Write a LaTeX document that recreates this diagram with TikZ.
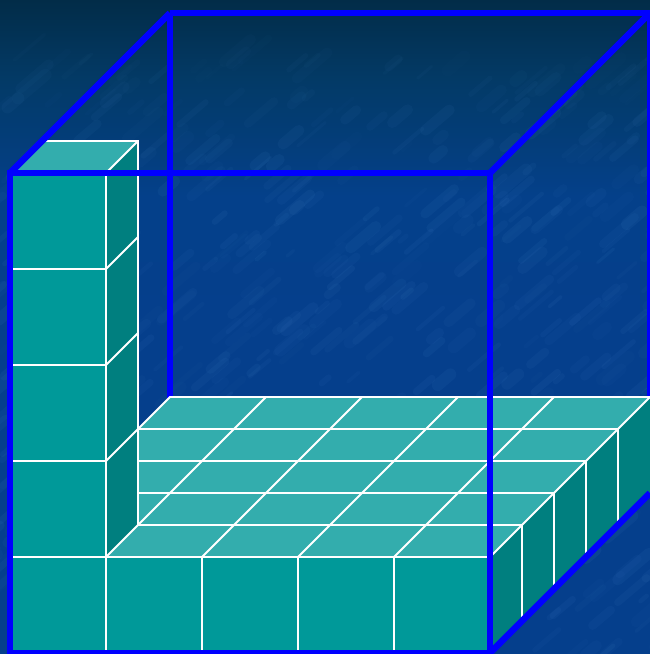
\documentclass[tikz,border=0pt]{standalone}
\definecolor{frontteal}{HTML}{009999}
\definecolor{topteal}{HTML}{33ADAD}
\definecolor{sideteal}{HTML}{007F7F}
\definecolor{cubeblue}{HTML}{0000FF}
\definecolor{bgtop}{HTML}{022C48}
\definecolor{bgupper}{HTML}{033A66}
\definecolor{bgmid}{HTML}{04408A}
\definecolor{bglow}{HTML}{053F8C}
\definecolor{streak}{HTML}{5A9ADC}
\pgfdeclareverticalshading{bgshade}{100bp}{
  color(0bp)=(bglow); color(25bp)=(bglow); color(50bp)=(bglow); color(60bp)=(bgmid); color(69bp)=(bgupper); color(75bp)=(bgtop); color(100bp)=(bgtop)}
\tikzset{
  frontface/.style={fill=frontteal},
  topface/.style={fill=topteal},
  sideface/.style={fill=sideteal},
  gridline/.style={draw=white,line width=1.9pt,line cap=butt},
  edgeline/.style={draw=cubeblue,line width=6.6pt,line join=miter},
  texture/.style={draw=streak,line cap=round},
}
\begin{document}
\begin{tikzpicture}[x=1pt,y=-1pt]
\useasboundingbox (0,0) rectangle (650,654);
\clip (0,0) rectangle (650,654);
% background
\shade[shading=bgshade] (0,0) rectangle (650,654);
\pgfmathsetseed{4711}
\foreach \i in {1,...,700}{
  \pgfmathsetmacro{\px}{rnd*700-25}
  \pgfmathsetmacro{\py}{60+rnd*600}
  \pgfmathsetmacro{\len}{6+rnd*26}
  \pgfmathsetmacro{\wid}{3+rnd*9}
  \pgfmathsetmacro{\op}{(0.02+rnd*0.05)*min(1,\py/220+0.25)}
  \draw[texture,line width=\wid pt,opacity=\op] (\px,\py) -- ++(\len,-\len*0.85);
}
% back edges of the box
\draw[edgeline] (170,400) -- (170,13);
\draw[edgeline] (650,400) -- (650,13);
% column side and top
\path[sideface] (106,173) -- (138,141) -- (138,525) -- (106,557) -- cycle;
\path[topface] (10,173) -- (42,141) -- (138,141) -- (106,173) -- cycle;
\path[frontface] (10,173) rectangle (106,653);
% floor top
\path[topface] (106,557) -- (138,525) -- (138,429) -- (170,397) -- (650,397) -- (490,557) -- cycle;
% floor right side and front
\path[sideface] (490,557) -- (650,397) -- (650,493) -- (490,653) -- cycle;
\path[frontface] (106,557) rectangle (490,653);
% white column lines
\draw[gridline] (42,141) -- (138,141) -- (138,525);
\draw[gridline] (106,173) -- (106,653);
\foreach \yy/\yb in {173/141,269/237,365/333,461/429}{
  \draw[gridline] (106,\yy) -- (138,\yb);
}
\foreach \yy in {269,365,461}{
  \draw[gridline] (10,\yy) -- (106,\yy);
}
% white floor lines
\draw[gridline] (10,557) -- (490,557);
\foreach \yy/\xe in {525/522,493/554,461/586,429/618}{
  \draw[gridline] (138,\yy) -- (\xe,\yy);
}
\draw[gridline] (138,429) -- (170,397) -- (650,397);
\foreach \xs in {106,202,298,394,490}{
  \draw[gridline] (\xs,557) -- ++(160,-160);
}
\foreach \xs in {202,298,394}{
  \draw[gridline] (\xs,557) -- (\xs,653);
}
\foreach \xs/\ys/\ye in {522/525/621,554/493/589,586/461/557,618/429/525}{
  \draw[gridline] (\xs,\ys) -- (\xs,\ye);
}
% front and connecting edges of the box
\draw[edgeline] (170,13) -- (650,13);
\draw[edgeline] (10,173) -- (170,13);
\draw[edgeline] (490,173) -- (650,13);
\draw[edgeline] (490,653) -- (650,493);
\draw[edgeline] (10,173) -- (490,173) -- (490,653) -- (10,653) -- cycle;
\end{tikzpicture}
\end{document}
